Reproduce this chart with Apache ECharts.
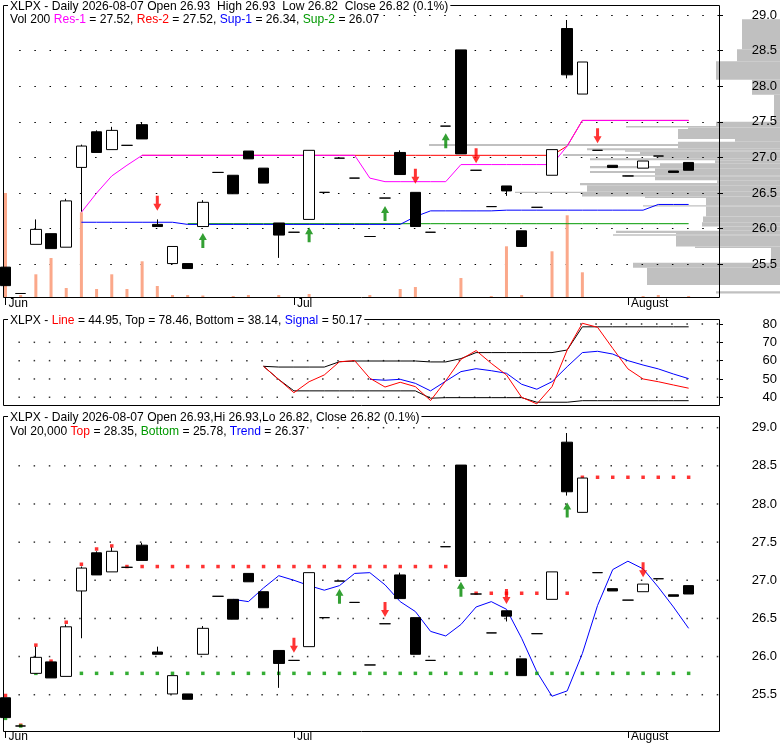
<!DOCTYPE html>
<html>
<head>
<meta charset="utf-8">
<title>XLPX Daily</title>
<script src="https://cdn.jsdelivr.net/npm/echarts@6.0.0/dist/echarts.min.js"></script>
<style>
  html, body { margin: 0; padding: 0; background: #fff; }
  #chart { width: 780px; height: 745px; }
</style>
</head>
<body>
<div id="chart"></div>
<script>
// trading days shown (two empty slots are added at the right edge)
var dates = ['2026-06-03','2026-06-04','2026-06-05','2026-06-08','2026-06-09','2026-06-10','2026-06-11','2026-06-12',
  '2026-06-15','2026-06-16','2026-06-17','2026-06-18','2026-06-22','2026-06-23','2026-06-24','2026-06-25','2026-06-26',
  '2026-06-29','2026-06-30','2026-07-01','2026-07-02','2026-07-06','2026-07-07','2026-07-08','2026-07-09','2026-07-10',
  '2026-07-13','2026-07-14','2026-07-15','2026-07-16','2026-07-17','2026-07-20','2026-07-21','2026-07-22','2026-07-23',
  '2026-07-24','2026-07-27','2026-07-28','2026-07-29','2026-07-30','2026-07-31','2026-08-03','2026-08-04','2026-08-05',
  '2026-08-06','2026-08-07'];
var tickIdx = [0, 19, 41];
var tickLbl = ['Jun', 'Jul', 'August'];
var priceTicks = [25.5, 26.0, 26.5, 27.0, 27.5, 28.0, 28.5, 29.0];
var oscTicks = [40, 50, 60, 70, 80];

var opens  = [25.46,25.09,25.78,25.93,25.74,26.86,27.36,27.11,27.17,27.46,26.06,25.51,25.51,26.03,26.79,26.75,27.09,26.85,26.08,25.95,26.13,26.51,26.99,26.71,25.89,26.43,27.07,26.51,25.95,27.44,28.51,26.82,26.31,26.60,25.97,26.30,26.75,28.81,27.89,27.10,26.89,26.74,26.85,27.02,26.81,26.93];
var closes = [25.20,25.09,25.99,25.72,26.39,27.16,27.07,27.38,27.17,27.26,26.03,25.75,25.44,26.37,26.79,26.49,26.98,26.64,25.91,25.95,27.10,26.51,26.99,26.71,25.89,26.43,26.76,26.03,25.95,27.44,27.05,26.82,26.31,26.53,25.75,26.30,27.11,28.16,28.34,27.10,26.86,26.74,26.95,27.02,26.79,26.82];
var lows   = [25.20,25.09,25.78,25.72,25.74,26.24,27.07,27.11,27.17,27.26,26.03,25.51,25.44,26.03,26.79,26.49,26.98,26.64,25.59,25.95,26.13,26.51,26.99,26.71,25.89,26.43,26.76,26.03,25.95,27.44,27.05,26.82,26.31,26.46,25.75,26.30,26.75,28.11,27.89,27.10,26.86,26.74,26.85,27.02,26.79,26.82];
var highs  = [25.46,25.09,26.13,25.93,26.42,27.18,27.38,27.43,27.17,27.49,26.13,25.75,25.51,26.40,26.79,26.75,27.09,26.85,26.08,25.95,27.10,26.51,26.99,26.71,25.89,26.43,27.10,26.51,25.95,27.44,28.51,26.82,26.31,26.60,25.97,26.30,27.11,28.93,28.34,27.10,26.89,26.74,26.95,27.02,26.81,26.93];
var volumes = [10500,300,2370,4000,1000,8570,900,2370,900,3670,1200,300,300,250,100,200,300,100,300,100,400,100,100,100,300,100,900,1100,100,100,2000,100,200,5170,300,100,4670,8270,2570,100,100,100,200,300,100,200];

// support / resistance (top panel)
var res1 = [null,null,null,null,null,26.23,26.50,26.74,26.89,27.03,27.03,27.03,27.03,27.03,27.03,27.03,27.03,27.03,27.03,27.03,27.03,27.03,27.03,27.03,26.71,26.66,26.66,26.66,26.66,26.66,26.90,26.90,26.90,26.90,26.90,26.90,26.90,27.16,27.52,27.52,27.52,27.52,27.52,27.52,27.52,27.52];
var res2 = [null,null,null,null,null,null,null,null,null,27.03,27.03,27.03,27.03,27.03,27.03,27.03,27.03,27.03,27.03,27.03,27.03,27.03,27.03,27.03,27.03,27.03,27.03,27.03,27.03,27.03,27.03,27.03,27.03,27.03,27.03,27.03,27.03,27.16,27.52,27.52,27.52,27.52,27.52,27.52,27.52,27.52];
var sup1 = [null,null,null,null,null,26.09,26.09,26.09,26.09,26.09,26.09,26.09,26.06,26.06,26.06,26.06,26.06,26.06,26.06,26.06,26.06,26.06,26.06,26.06,26.06,26.06,26.06,26.17,26.25,26.25,26.25,26.25,26.25,26.26,26.26,26.26,26.26,26.26,26.26,26.26,26.26,26.26,26.26,26.34,26.34,26.34];
var sup2 = [null,null,null,null,null,null,null,null,null,null,null,null,26.07,26.07,26.07,26.07,26.07,26.07,26.07,26.07,26.07,26.07,26.07,26.07,26.07,26.07,26.07,26.07,26.07,26.07,26.07,26.07,26.07,26.07,26.07,26.07,26.07,26.07,26.07,26.07,26.07,26.07,26.07,26.07,26.07,26.07];
var topUp   = [[13,25.94],[20,26.02],[25,26.32],[29,27.34]];
var topDown = [[10,26.25],[27,26.63],[31,26.92],[39,27.20]];

// volume at price: [low, high, volume]
var profile = [
  [28.52,28.94,38],[28.35,28.52,43],[28.09,28.35,64],[27.88,28.09,28],[27.50,27.88,6],[27.44,27.50,64],
  [27.42,27.44,154],[27.40,27.42,92],[27.26,27.40,102],[27.22,27.26,45],[27.19,27.22,102],[27.16,27.19,351],
  [27.13,27.16,102],[27.10,27.13,193],[27.08,27.10,155],[27.05,27.08,140],[27.02,27.05,217],[26.99,27.02,123],
  [26.96,26.99,190],[26.92,26.96,65],[26.88,26.92,120],[26.85,26.88,190],[26.81,26.85,125],[26.78,26.81,190],
  [26.75,26.78,125],[26.73,26.75,155],[26.68,26.73,125],[26.64,26.68,63],[26.61,26.64,200],[26.52,26.61,193],
  [26.50,26.52,265],[26.45,26.50,198],[26.43,26.45,135],[26.33,26.43,74],[26.31,26.33,137],[26.17,26.31,74],
  [26.09,26.17,77],[26.03,26.09,78],[25.97,26.03,60],[25.94,25.97,164],[25.92,25.94,104],[25.90,25.92,167],
  [25.75,25.90,104],[25.73,25.75,85],[25.52,25.73,9],[25.45,25.52,147],[25.21,25.45,133],[25.09,25.12,64]
];

// oscillator (middle panel)
var oscLine = [null,null,null,null,null,null,null,null,null,null,null,null,null,null,null,null,null,
  56.9,49.7,42.5,48.5,52.2,59.4,60.0,50.4,45.6,48.2,45.8,38.2,49.0,60.7,65.5,58.5,52.2,40.0,36.4,45.8,65.8,80.4,78.2,66.7,55.5,50.0,48.5,46.7,44.95];
var oscSignal = [null,null,null,null,null,null,null,null,null,null,null,null,null,null,null,null,null,null,null,null,null,null,null,null,
  49.8,49.3,49.8,47.6,43.5,48.8,54.0,55.6,54.5,53.1,47.1,44.4,48.5,56.7,64.4,65.1,63.6,60.0,57.6,55.5,52.7,50.17];
var oscTop = [null,null,null,null,null,null,null,null,null,null,null,null,null,null,null,null,null,
  56.9,56.5,56.5,56.5,56.5,59.4,59.8,59.8,59.8,59.8,59.8,59.3,59.3,61.1,64.4,64.4,64.4,64.4,64.4,64.4,65.8,78.46,78.46,78.46,78.46,78.46,78.46,78.46,78.46];
var oscBottom = [null,null,null,null,null,null,null,null,null,null,null,null,null,null,null,null,null,
  56.9,49.7,43.5,43.5,43.5,43.5,43.5,43.5,43.5,43.5,43.5,39.5,39.8,39.8,39.8,39.8,39.8,39.8,37.3,37.3,37.3,38.14,38.14,38.14,38.14,38.14,38.14,38.14,38.14];

// channel (bottom panel)
var chTop = [25.49,25.10,26.15,25.94,26.45,27.21,27.41,27.45,27.18,27.18,27.18,27.18,27.18,27.18,27.18,27.18,27.18,27.18,27.18,27.18,27.18,27.18,27.18,27.18,27.18,27.18,27.18,27.18,27.18,27.18,null,26.83,26.83,26.83,26.83,26.83,26.83,26.83,28.35,28.35,28.35,28.35,28.35,28.35,28.35,28.35];
var chBottom = [25.19,25.09,25.78,25.78,25.78,25.78,25.78,25.78,25.78,25.78,25.78,25.78,25.78,25.78,25.78,25.78,25.78,25.78,25.78,25.78,25.78,25.78,25.78,25.78,25.78,25.78,25.78,25.78,25.78,25.78,25.78,25.78,25.78,25.78,25.78,25.78,25.78,25.78,25.78,25.78,25.78,25.78,25.78,25.78,25.78,25.78];
var trend = [null,null,null,null,null,null,null,null,null,null,null,null,null,null,null,
  26.75,26.72,26.90,27.06,27.00,26.93,26.87,26.93,27.09,27.10,26.94,26.72,26.59,26.33,26.27,26.42,26.65,26.72,26.62,26.24,25.80,25.48,25.55,26.04,26.67,27.14,27.25,27.15,26.91,26.65,26.37];
var botUp   = [[22,26.89],[30,26.98],[37,28.02]];
var botDown = [[19,26.05],[25,26.52],[33,26.69],[42,27.04]];

var FONT = '"Liberation Sans", Arial, sans-serif';
var RED = '#ff0000', GREEN = '#009900', BLUE = '#0000ff', MAGENTA = '#ff00ff';
var UP_ARROW = 'path://M4,0 L8,7 L5.5,7 L5.5,15 L2.5,15 L2.5,7 L0,7 Z';
var DOWN_ARROW = 'path://M2.5,0 L5.5,0 L5.5,8 L8,8 L4,15 L0,8 L2.5,8 Z';

var cats = dates.concat(['', '']);
var candles = dates.map(function (d, i) { return [opens[i], closes[i], lows[i], highs[i]]; });
var last = dates.length - 1;

function isTick(i) { return tickIdx.indexOf(i) >= 0; }

function catAxis(grid, withLabels, offset) {
  var ax = {
    type: 'category', gridIndex: grid, data: cats, boundaryGap: false,
    axisLine: { show: false }, splitLine: { show: false },
    axisTick: { show: false }, axisLabel: { show: false }
  };
  if (withLabels) {
    ax.offset = offset || 0;
    ax.axisTick = { show: true, interval: function (i) { return isTick(i); }, length: 7, lineStyle: { color: '#000', width: 1 } };
    ax.axisLabel = {
      show: true, interval: function (i) { return isTick(i); },
      formatter: function (v, i) { var k = tickIdx.indexOf(i); return k >= 0 ? tickLbl[k] : ''; },
      align: 'left', verticalAlign: 'top', padding: [0, 0, 0, 3], margin: 0,
      color: '#000', fontSize: 12, fontFamily: FONT
    };
  }
  return ax;
}

function priceAxis(grid, min, max, interval, ticks, split) {
  return {
    type: 'value', gridIndex: grid, position: 'right', min: min, max: max, interval: interval,
    axisLine: { show: false },
    axisTick: { show: ticks, length: 4, lineStyle: { color: '#000' } },
    axisLabel: {
      showMinLabel: false, showMaxLabel: false, align: 'right', margin: 58,
      color: '#000', fontSize: 13, fontFamily: FONT,
      formatter: function (v) { return interval < 1 ? v.toFixed(1) : String(v); }
    },
    splitLine: { show: split, showMinLine: false, showMaxLine: false,
      lineStyle: { color: '#000', width: 1, type: [1.5, 13.68], dashOffset: 1.5 } }
  };
}

// dotted grid of the lower panels: one dot per day slot on every tick level
function gridDots(xi, yi, ticks) {
  var pts = [];
  ticks.forEach(function (t) {
    for (var k = 1; k < cats.length; k++) pts.push([k, t]);
  });
  return { type: 'scatter', xAxisIndex: xi, yAxisIndex: yi, data: pts, z: 1, silent: true,
    symbol: 'rect', symbolSize: [1.5, 1.5], symbolOffset: [-1.5, 0], itemStyle: { color: '#000' } };
}

function lineSeries(xi, yi, data, color) {
  return { type: 'line', xAxisIndex: xi, yAxisIndex: yi, data: data, showSymbol: false, symbol: 'none',
    lineStyle: { color: color, width: 1 }, z: 3, silent: true };
}
function arrowSeries(xi, yi, data, up) {
  return { type: 'scatter', xAxisIndex: xi, yAxisIndex: yi, data: data, z: 5, silent: true,
    symbol: up ? UP_ARROW : DOWN_ARROW, symbolSize: [8, 15], symbolOffset: [0, up ? 7.5 : -7.5],
    itemStyle: { color: up ? '#008800' : RED } };
}
function candleSeries(xi, yi) {
  return { type: 'candlestick', xAxisIndex: xi, yAxisIndex: yi, data: candles, barWidth: 11, clip: false, z: 4, silent: true,
    itemStyle: { color: '#fff', color0: '#000', borderColor: '#000', borderColor0: '#000', borderColorDoji: '#000', borderWidth: 1 } };
}

function titleText(x, y, parts) {
  var text = '', rich = {};
  parts.forEach(function (p, i) {
    var key = 't' + i;
    rich[key] = { fill: p[1], fontSize: 12.1, fontFamily: FONT };
    text += '{' + key + '|' + p[0] + '}';
  });
  return { type: 'text', x: x, y: y, z: 110, silent: true,
    style: { text: text, rich: rich, fontSize: 12.1, fontFamily: FONT, verticalAlign: 'middle',
      backgroundColor: '#fff', padding: [1, 2, 1, 2] } };
}
function frame(x, y, w, h) {
  return { type: 'rect', z: 100, silent: true, shape: { x: x, y: y, width: w, height: h },
    style: { fill: 'none', stroke: '#000', lineWidth: 1 } };
}

var o = opens[last].toFixed(2), h = highs[last].toFixed(2), l = lows[last].toFixed(2), c = closes[last].toFixed(2);

var chart = echarts.init(document.getElementById('chart'));
chart.setOption({
  animation: false,
  backgroundColor: '#fff',
  grid: [
    { left: 5.5, top: 5, width: 713.5, height: 294.9, outerBoundsMode: 'none' },
    { left: 5.5, top: 5, width: 713.5, height: 293, outerBoundsMode: 'none' },
    { left: 5.5, top: 319.3, width: 713.5, height: 96.3, outerBoundsMode: 'none' },
    { left: 5.5, top: 416.7, width: 713.5, height: 316.16, outerBoundsMode: 'none' },
    { left: 400, top: 5, width: 380, height: 294.9, outerBoundsMode: 'none' }
  ],
  xAxis: [
    catAxis(0, false),
    catAxis(1, true),
    catAxis(2, false),
    catAxis(3, true, -1.9),
    { type: 'value', gridIndex: 4, min: 0, max: 380, inverse: true, show: false }
  ],
  yAxis: [
    priceAxis(0, 25, 29.1404, 0.5, true, true),
    { type: 'value', gridIndex: 1, min: 0, max: 29300, show: false },
    priceAxis(2, 30, 82.565, 10, true, false),
    priceAxis(3, 25, 29.144, 0.5, false, false),
    { type: 'value', gridIndex: 4, min: 25, max: 29.1404, show: false }
  ],
  series: [
    { type: 'custom', xAxisIndex: 4, yAxisIndex: 4, data: profile, z: -1, silent: true,
      encode: { x: 2, y: [0, 1] },
      renderItem: function (params, api) {
        var a = api.coord([api.value(2), api.value(1)]);
        var b = api.coord([0, api.value(0)]);
        return { type: 'rect', shape: { x: a[0], y: a[1], width: b[0] - a[0], height: b[1] - a[1] },
          style: { fill: '#c0c0c0' } };
      } },
    { type: 'bar', xAxisIndex: 1, yAxisIndex: 1, data: volumes, barWidth: 3, z: 2, silent: true,
      itemStyle: { color: '#fba88a' } },
    lineSeries(0, 0, res2, RED),
    lineSeries(0, 0, res1, MAGENTA),
    lineSeries(0, 0, sup2, GREEN),
    lineSeries(0, 0, sup1, BLUE),
    candleSeries(0, 0),
    arrowSeries(0, 0, topUp, true),
    arrowSeries(0, 0, topDown, false),

    gridDots(2, 2, oscTicks),
    lineSeries(2, 2, oscTop, '#000'),
    lineSeries(2, 2, oscBottom, '#000'),
    lineSeries(2, 2, oscSignal, BLUE),
    lineSeries(2, 2, oscLine, RED),

    gridDots(3, 3, priceTicks),
    { type: 'scatter', xAxisIndex: 3, yAxisIndex: 3, data: chTop, symbol: 'rect', symbolSize: 3.5, z: 3, silent: true,
      itemStyle: { color: RED } },
    { type: 'scatter', xAxisIndex: 3, yAxisIndex: 3, data: chBottom, symbol: 'rect', symbolSize: 3.5, z: 3, silent: true,
      itemStyle: { color: GREEN } },
    lineSeries(3, 3, trend, BLUE),
    candleSeries(3, 3),
    arrowSeries(3, 3, botUp, true),
    arrowSeries(3, 3, botDown, false)
  ],
  graphic: [
    frame(3.5, 5.5, 716, 292),
    frame(3.5, 319.5, 716, 86),
    frame(3.5, 416.5, 716, 315),
    titleText(8, 6.5, [['XLPX - Daily ' + dates[last] + ' Open ' + o + '  High ' + h + '  Low ' + l + '  Close ' + c + ' (0.1%)', '#000']]),
    titleText(8, 20, [['Vol ' + volumes[last] + ' ', '#000'], ['Res-1', MAGENTA], [' = ' + res1[last].toFixed(2) + ', ', '#000'],
      ['Res-2', RED], [' = ' + res2[last].toFixed(2) + ', ', '#000'], ['Sup-1', BLUE], [' = ' + sup1[last].toFixed(2) + ', ', '#000'],
      ['Sup-2', GREEN], [' = ' + sup2[last].toFixed(2), '#000']]),
    titleText(8, 320.5, [['XLPX - ', '#000'], ['Line', RED], [' = ' + oscLine[last].toFixed(2) + ', Top = ' + oscTop[last].toFixed(2) +
      ', Bottom = ' + oscBottom[last].toFixed(2) + ', ', '#000'], ['Signal', BLUE], [' = ' + oscSignal[last].toFixed(2), '#000']]),
    titleText(8, 417.8, [['XLPX - Daily ' + dates[last] + ' Open ' + o + ',Hi ' + h + ',Lo ' + l + ', Close ' + c + ' (0.1%)', '#000']]),
    titleText(8, 431.2, [['Vol 20,000 ', '#000'], ['Top', RED], [' = ' + chTop[last].toFixed(2) + ', ', '#000'],
      ['Bottom', GREEN], [' = ' + chBottom[last].toFixed(2) + ', ', '#000'], ['Trend', BLUE], [' = ' + trend[last].toFixed(2), '#000']])
  ]
});
</script>
</body>
</html>
